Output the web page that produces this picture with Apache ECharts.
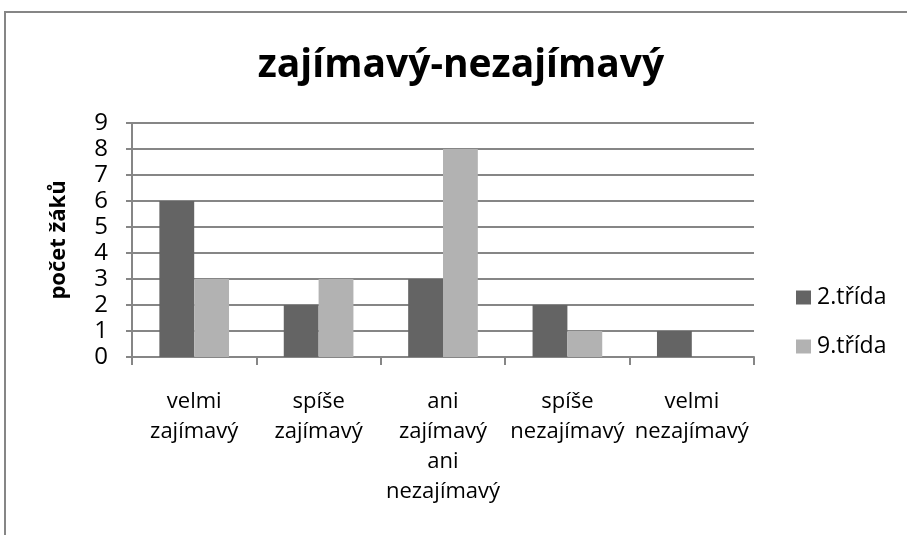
<!DOCTYPE html>
<html>
<head>
<meta charset="utf-8">
<script src="https://cdn.jsdelivr.net/npm/echarts@6/dist/echarts.min.js"></script>
<style>
html, body { margin: 0; padding: 0; background: #fff; }
#chart { width: 907px; height: 535px; }
</style>
</head>
<body>
<div id="chart"></div>
<script>
var categories = ['velmi\nzajímavý', 'spíše\nzajímavý', 'ani\nzajímavý\nani\nnezajímavý', 'spíše\nnezajímavý', 'velmi\nnezajímavý'];
var trida2 = [6, 2, 3, 2, 1];
var trida9 = [3, 3, 8, 1, 0];
var seriesNames = ['2.třída', '9.třída'];

var font = 'Open Sans';
var myChart = echarts.init(document.getElementById('chart'));
var option = {
    animation: false,
    graphic: [{
        type: 'rect',
        shape: { x: 5, y: 12, width: 1000, height: 600 },
        style: { fill: 'none', stroke: '#868686', lineWidth: 2 }
    }],
    title: {
        text: 'zajímavý-nezajímavý',
        left: 456,
        textAlign: 'center',
        top: 41,
        textStyle: { fontFamily: font, fontSize: 39, fontWeight: 'bold', color: '#000' }
    },
    legend: {
        orient: 'vertical',
        left: 796,
        top: 286,
        padding: 0,
        itemWidth: 15,
        itemHeight: 14,
        itemGap: 26,
        icon: 'rect',
        data: seriesNames,
        textStyle: { fontFamily: font, fontSize: 23, color: '#000', padding: [0, 0, 0, 1] }
    },
    grid: { left: 132, right: 153, top: 123, bottom: 178 },
    xAxis: {
        type: 'category',
        data: categories,
        axisLine: { lineStyle: { color: '#868686', width: 2 } },
        axisTick: { show: true, length: 8, lineStyle: { color: '#868686', width: 2 } },
        axisLabel: { fontFamily: font, fontSize: 22, color: '#000', lineHeight: 30, margin: 30, interval: 0 }
    },
    yAxis: {
        type: 'value',
        min: 0,
        max: 9,
        interval: 1,
        name: 'počet žáků',
        nameLocation: 'middle',
        nameGap: 62,
        nameTextStyle: { fontFamily: font, fontSize: 22, fontWeight: 'bold', color: '#000' },
        axisLine: { show: true, lineStyle: { color: '#868686', width: 2 } },
        axisTick: { show: true, length: 6, lineStyle: { color: '#868686', width: 2 } },
        axisLabel: { fontFamily: font, fontSize: 24, color: '#000', margin: 24 },
        splitLine: { lineStyle: { color: '#868686', width: 2 } }
    },
    series: [{
        name: seriesNames[0],
        type: 'bar',
        data: trida2,
        barGap: '0%',
        barCategoryGap: '44%',
        itemStyle: { color: '#646464' }
    }, {
        name: seriesNames[1],
        type: 'bar',
        data: trida9,
        itemStyle: { color: '#b2b2b2' }
    }]
};
myChart.setOption(option);
</script>
</body>
</html>
